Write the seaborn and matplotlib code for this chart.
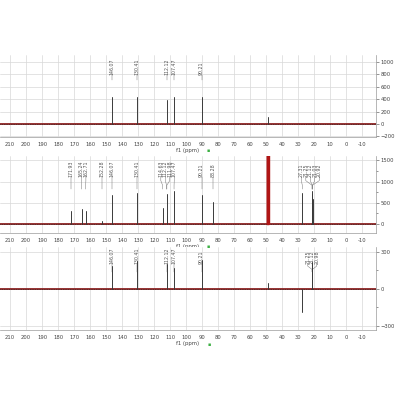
import numpy as np
import pandas as pd
import matplotlib
matplotlib.use("Agg")
import matplotlib.pyplot as plt
import seaborn as sns

sns.set_style("whitegrid")
plt.rcParams['font.family'] = ['DejaVu Sans']

# x axis (ppm)
ppm_ticks = list(range(210, -11, -10))
ppm_lim = (216.25, -18.75)

# panel 1
p1_ppm = [146.07, 130.41, 112.12, 107.47, 90.21, 49.00]
p1_height = [435, 435, 390, 435, 435, 110]
p1_labels = [146.07, 130.41, 112.12, 107.47, 90.21]
p1_yticks = [-200, 0, 200, 400, 600, 800, 1000]
p1_ylim = (-210, 1110)

# panel 2 (13C)
p2_ppm = [171.93, 165.24, 162.71, 152.28, 146.07, 130.41, 114.63, 112.12,
          111.98, 107.47, 90.21, 83.28, 27.31, 21.25, 21.12, 21.03, 20.92]
p2_height = [300, 350, 310, 80, 690, 735, 380, 715,
             200, 770, 690, 520, 735, 775, 700, 650, 600]
p2_labels = p2_ppm
p2_solvent_ppm = [49.64, 49.43, 49.21, 49.00, 48.79, 48.57, 48.36]
p2_solvent_height = [2500, 4500, 7000, 8000, 7000, 4500, 2500]
p2_yticks = [0, 500, 1000, 1500]
p2_ylim = (-210, 1600)

# panel 3 (DEPT)
p3_ppm = [146.07, 130.41, 112.12, 107.47, 90.21, 49.00, 27.31, 21.25, 21.12, 20.98]
p3_height = [185, 226, 199, 172, 232, 50, -191, 215, 200, 190]
p3_labels = [146.07, 130.41, 112.12, 107.47, 90.21, 21.25, 21.12, 20.98]
p3_yticks = [-300, 0, 300]
p3_ylim = (-335, 340)


def sticks(ppm, height):
    rows = []
    for i, (x, h) in enumerate(zip(ppm, height)):
        rows.append({"peak": i, "ppm": x, "intensity": 0})
        rows.append({"peak": i, "ppm": x, "intensity": h})
    return pd.DataFrame(rows)


def spread(vals, sep):
    groups = [[v] for v in sorted(vals, reverse=True)]

    def place(g):
        c = np.mean(g)
        n = len(g)
        return [c + sep * (n - 1) / 2 - sep * i for i in range(n)]

    changed = True
    while changed:
        changed = False
        for i in range(len(groups) - 1):
            a = place(groups[i])
            b = place(groups[i + 1])
            if a[-1] - b[0] < sep:
                groups[i] = groups[i] + groups[i + 1]
                del groups[i + 1]
                changed = True
                break
    out = []
    for g in groups:
        out += place(g)
    return sorted(vals, reverse=True), out


def label_peaks(ax, labels, ty, y1, y2, y3):
    tr = ax.get_xaxis_transform()
    vals, pos = spread(labels, 2.8)
    for v, p in zip(vals, pos):
        ax.text(p, ty, f"{v:.2f}", rotation=90, ha="center", va="bottom",
                fontsize=3.4, color="#555555", transform=tr)
        ax.plot([p, p, v, v], [ty - 0.005, y1, y2, y3], color="#777777",
                lw=0.35, transform=tr, clip_on=False)


def style(ax, yticks, ylim, minor=None):
    ax.set_xlim(*ppm_lim)
    ax.set_ylim(*ylim)
    ax.set_xticks(ppm_ticks)
    ax.set_xticklabels([str(t) for t in ppm_ticks])
    ax.set_yticks(yticks)
    if minor is not None:
        ax.set_yticks(minor, minor=True)
    ax.yaxis.tick_right()
    ax.tick_params(axis="both", labelsize=3.8, colors="#444444", length=2,
                   width=0.4, pad=1.5)
    ax.tick_params(axis="y", which="minor", length=1.2, width=0.4, colors="#444444")
    ax.grid(True, color="#d8d8d8", lw=0.5)
    for s in ["left", "top"]:
        ax.spines[s].set_visible(False)
    for s in ["right", "bottom"]:
        ax.spines[s].set_color("#9a9a9a")
        ax.spines[s].set_linewidth(0.5)
    ax.set_xlabel("f1 (ppm)", fontsize=3.8, labelpad=0.5, color="#444444")
    ax.set_ylabel("")


def draw(ax, ppm, height):
    ax.axhline(0, color="#8e2222", lw=1.3, zorder=2)
    ax.axhline(0, color="#222222", lw=0.5, ls=(0, (1, 1.5)), zorder=3)
    sns.lineplot(data=sticks(ppm, height), x="ppm", y="intensity", units="peak",
                 estimator=None, sort=False, color="#3a3a3a", lw=0.7, ax=ax,
                 zorder=4)


fig = plt.figure(figsize=(4, 4), dpi=100)
ax1 = fig.add_axes([0.0, 0.6575, 0.94, 0.205])
ax2 = fig.add_axes([0.0, 0.4175, 0.94, 0.1925])
ax3 = fig.add_axes([0.0, 0.175, 0.94, 0.2075])

draw(ax1, p1_ppm, p1_height)
style(ax1, p1_yticks, p1_ylim)
label_peaks(ax1, p1_labels, 0.76, 0.72, 0.72, 0.69)

draw(ax2, p2_ppm, p2_height)
sns.lineplot(data=sticks(p2_solvent_ppm, p2_solvent_height), x="ppm", y="intensity",
             units="peak", estimator=None, sort=False, color="#b01515", lw=1.0,
             ax=ax2, zorder=5)
style(ax2, p2_yticks, p2_ylim, minor=[250, 750, 1250])
label_peaks(ax2, p2_labels, 0.73, 0.68, 0.62, 0.57)

draw(ax3, p3_ppm, p3_height)
style(ax3, p3_yticks, p3_ylim, minor=[-150, 150])
label_peaks(ax3, p3_labels, 0.80, 0.77, 0.73, 0.70)

for xf, yf in [(0.52, 0.624), (0.52, 0.384), (0.522, 0.14)]:
    fig.text(xf, yf, "\u25aa", color="#3cb043", fontsize=3.5, ha="center", va="center")

fig.savefig("out.png", dpi=100)
